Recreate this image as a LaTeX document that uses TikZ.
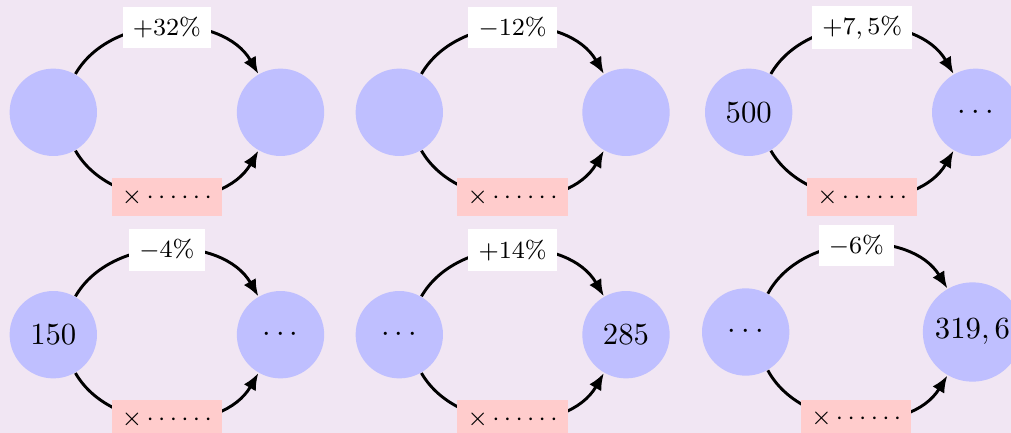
\documentclass[tikz,border=0pt]{standalone}
\usetikzlibrary{arrows.meta}
\definecolor{bgcol}{RGB}{241,230,243}
\begin{document}
\begin{tikzpicture}[x=0.3257pt,y=-0.3257pt,
  circ/.style={circle,fill=blue!25,minimum size=1cm,inner sep=0.3333em},
  toplbl/.style={fill=white,font=\footnotesize},
  botlbl/.style={fill=red!20,font=\footnotesize},
  conn/.style={line width=0.95pt,-{Latex[length=5.5pt,width=4.5pt]}}]
\fill[bgcol] (0,0) rectangle (1011,433);
\useasboundingbox (0,0) rectangle (1011,433);
% row 1
\node[circ] (a1) at (53.3,112.3) {};
\node[circ] (b1) at (280.5,112.3) {};
\node[circ] (a2) at (399.3,112.3) {};
\node[circ] (b2) at (626,112.3) {};
\node[circ] (a3) at (748.7,112.3) {$500$};
\node[circ] (b3) at (975.7,112.3) {$\cdots$};
% row 2
\node[circ] (a4) at (53.3,334.7) {$150$};
\node[circ] (b4) at (280.5,334.7) {$\cdots$};
\node[circ] (a5) at (399.3,334.7) {$\cdots$};
\node[circ] (b5) at (626,334.7) {$285$};
\node[circ] (a6) at (745.7,332) {$\cdots$};
\node[circ,inner sep=0.25em] (b6) at (972.5,332) {$319,6$};
% connectors
\draw[conn] (a1) to[bend left=60] node[toplbl] {$+32\%$} (b1);
\draw[conn] (a1) to[bend right=60] node[botlbl] {$\times\cdots\cdots$} (b1);
\draw[conn] (a2) to[bend left=60] node[toplbl] {$-12\%$} (b2);
\draw[conn] (a2) to[bend right=60] node[botlbl] {$\times\cdots\cdots$} (b2);
\draw[conn] (a3) to[bend left=60] node[toplbl] {$+7,5\%$} (b3);
\draw[conn] (a3) to[bend right=60] node[botlbl] {$\times\cdots\cdots$} (b3);
\draw[conn] (a4) to[bend left=60] node[toplbl] {$-4\%$} (b4);
\draw[conn] (a4) to[bend right=60] node[botlbl] {$\times\cdots\cdots$} (b4);
\draw[conn] (a5) to[bend left=60] node[toplbl] {$+14\%$} (b5);
\draw[conn] (a5) to[bend right=60] node[botlbl] {$\times\cdots\cdots$} (b5);
\draw[conn] (a6) to[bend left=60] node[toplbl] {$-6\%$} (b6);
\draw[conn] (a6) to[bend right=60] node[botlbl] {$\times\cdots\cdots$} (b6);
\end{tikzpicture}
\end{document}
